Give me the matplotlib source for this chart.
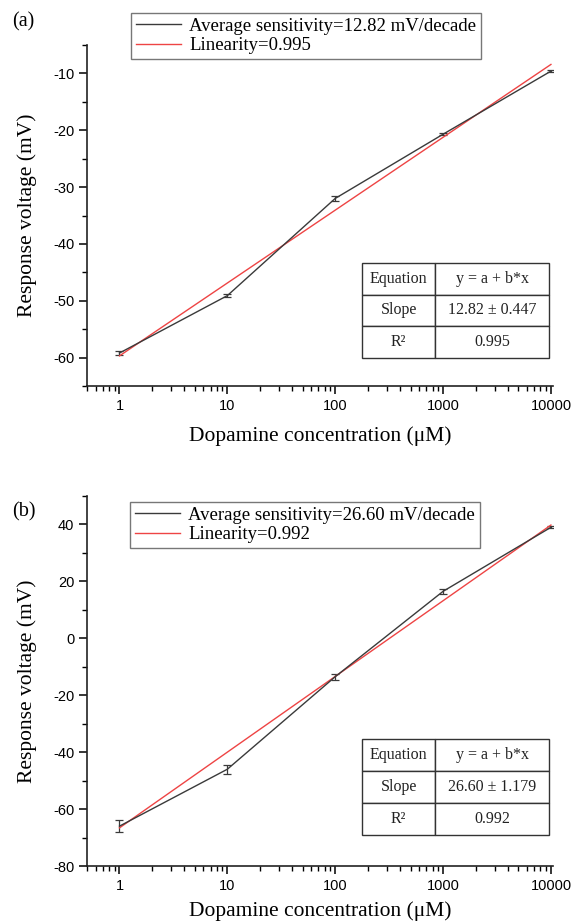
import numpy as np
import matplotlib
matplotlib.use("Agg")
import matplotlib.pyplot as plt
from matplotlib.lines import Line2D
from matplotlib.ticker import LogLocator, FixedLocator, NullFormatter

plt.rcParams['font.family'] = ['Liberation Sans', 'DejaVu Sans']
plt.rcParams['axes.unicode_minus'] = False

conc = [1, 10, 100, 1000, 10000]

# panel (a)
resp_a = [-59.2, -49.1, -32.0, -20.7, -9.6]
err_a = [0.3, 0.25, 0.4, 0.2, 0.2]
fit_a = [-59.7, 12.82]          # intercept, slope per decade
legend_a = ["Average sensitivity=12.82 mV/decade", "Linearity=0.995"]
table_a = [["Equation", "y = a + b*x"], ["Slope", "12.82 ± 0.447"], ["R²", "0.995"]]

# panel (b)
resp_b = [-66.0, -46.0, -13.5, 16.5, 39.0]
err_b = [2.0, 1.5, 1.0, 1.0, 0.4]
fit_b = [-66.6, 26.60]
legend_b = ["Average sensitivity=26.60 mV/decade", "Linearity=0.992"]
table_b = [["Equation", "y = a + b*x"], ["Slope", "26.60 ± 1.179"], ["R²", "0.992"]]

serif = ['Liberation Serif', 'DejaVu Serif']
W, H = 576, 924
black = '#3a3a3a'
red = '#ee4444'

fig = plt.figure(figsize=(5.76, 9.24), dpi=100)


def px_axes(l, t, r, b):
    return fig.add_axes([l / W, 1 - b / H, (r - l) / W, (b - t) / H])


def panel(ax, y, err, fit, legend_txt, table_rows, ylim, ymajor, yminor,
          leg_pos, tab_box, tag, tag_y, xlabelpad):
    x = np.array(conc, dtype=float)
    ax.errorbar(x, y, yerr=err, color=black, lw=1.0, capsize=3, elinewidth=0.9, capthick=0.9)
    xf = np.array([1, 10000], dtype=float)
    ax.plot(xf, fit[0] + fit[1] * np.log10(xf), color=red, lw=1.0)

    ax.set_xscale('log')
    ax.set_xlim(0.5, 10450)
    ax.set_ylim(*ylim)
    ax.xaxis.set_major_locator(FixedLocator(conc))
    ax.set_xticklabels([str(c) for c in conc])
    ax.xaxis.set_minor_locator(LogLocator(base=10, subs=np.arange(2, 10), numticks=20))
    ax.xaxis.set_minor_formatter(NullFormatter())
    ax.yaxis.set_major_locator(FixedLocator(ymajor))
    ax.yaxis.set_minor_locator(FixedLocator(yminor))

    for s in ['top', 'right']:
        ax.spines[s].set_visible(False)
    for s in ['left', 'bottom']:
        ax.spines[s].set_linewidth(1.2)
        ax.spines[s].set_color('#222222')
    ax.tick_params(which='major', direction='out', length=6, width=1.1, labelsize=10.5, pad=3)
    ax.tick_params(which='minor', direction='out', length=3.5, width=1.0)

    ax.set_xlabel("Dopamine concentration (μM)", family=serif, fontsize=15.5, labelpad=xlabelpad)
    ax.set_ylabel("Response voltage (mV)", family=serif, fontsize=15.5, labelpad=12)

    handles = [Line2D([], [], color=black, lw=1.0), Line2D([], [], color=red, lw=1.0)]
    l, t = leg_pos
    leg = fig.legend(handles, legend_txt, loc='upper left', bbox_to_anchor=(l / W, 1 - t / H),
                     bbox_transform=fig.transFigure, borderaxespad=0,
                     prop={'family': serif, 'size': 13.5}, fancybox=False, handlelength=2.4,
                     handletextpad=0.45, borderpad=0.25, labelspacing=0.12, frameon=True)
    leg.get_frame().set_edgecolor('#555555')
    leg.get_frame().set_linewidth(1.0)

    tl, tt, tr, tb = tab_box
    pos = ax.get_position()
    x0 = (tl / W - pos.x0) / pos.width
    x1 = (tr / W - pos.x0) / pos.width
    y0 = ((1 - tb / H) - pos.y0) / pos.height
    y1 = ((1 - tt / H) - pos.y0) / pos.height
    tab = ax.table(cellText=table_rows, cellLoc='center', colWidths=[0.393, 0.607],
                   bbox=[x0, y0, x1 - x0, y1 - y0])
    tab.auto_set_font_size(False)
    for (row, col), cell in tab.get_celld().items():
        cell.set_edgecolor('#333333')
        cell.set_linewidth(1.0)
        cell.get_text().set_fontsize(11.5)
        cell.get_text().set_family(serif)
        cell.get_text().set_color('#222222')

    fig.text(12 / W, 1 - tag_y / H, tag, family=serif, fontsize=14.5, va='center', ha='left')


ax1 = px_axes(87, 45, 553, 386)
panel(ax1, resp_a, err_a, fit_a, legend_a, table_a, (-65, -5), [-60, -50, -40, -30, -20, -10],
      [-65, -55, -45, -35, -25, -15, -5], (131, 13), (362, 263, 549, 358), "(a)", 22, 10)

ax2 = px_axes(87, 496, 553, 866)
panel(ax2, resp_b, err_b, fit_b, legend_b, table_b, (-80, 50), [-80, -60, -40, -20, 0, 20, 40],
      [-70, -50, -30, -10, 10, 30, 50], (130, 502), (362, 739, 549, 835), "(b)", 512, 6)

fig.savefig("out.png", dpi=100)
